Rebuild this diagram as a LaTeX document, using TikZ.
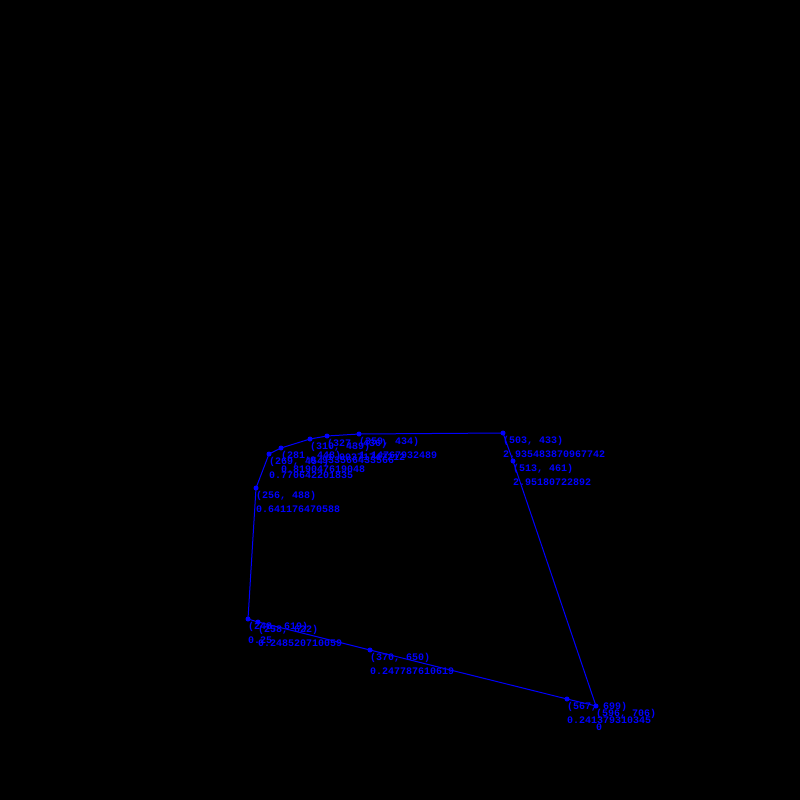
\documentclass[tikz,border=0pt]{standalone}
\usepackage{fontspec}
\setmonofont{Liberation Mono}
\usetikzlibrary{positioning}
\definecolor{hullblue}{RGB}{0,0,255}

\begin{document}
\begin{tikzpicture}[
  x=1pt,y=-1pt,
  hull/.style={draw=hullblue,line width=1pt},
  vertex/.style={circle,fill=hullblue,inner sep=0pt,minimum size=5pt},
  ptlabel/.style={anchor=base west,inner sep=0pt,text=hullblue,
                  font=\ttfamily\bfseries\fontsize{10}{12}\selectfont}
]
\fill[black] (0,0) rectangle (800,800);
% points with their slope values
\foreach \name/\px/\py/\val in {
  p0/596/706/0,
  p1/567/699/0.241379310345,
  p2/370/650/0.247787610619,
  p3/258/622/0.248520710059,
  p4/248/619/0.25,
  p5/256/488/0.641176470588,
  p6/269/454/0.770642201835,
  p7/281/448/0.819047619048,
  p8/310/439/0.933566433566,
  p9/327/436/1.00371747212,
  p10/359/434/1.14767932489,
  p11/503/433/2.935483870967742,
  p12/513/461/2.95180722892}{
  \node[vertex] (\name) at (\px,\py) {};
  \node[ptlabel] (\name-xy) at (\px,\py+10) {(\px, \py)};
  \node[ptlabel] (\name-val) at (\px,\py+24) {\val};
}
\draw[hull] (p0.center) -- (p1.center) -- (p2.center) -- (p3.center)
  -- (p4.center) -- (p5.center) -- (p6.center) -- (p7.center)
  -- (p8.center) -- (p9.center) -- (p10.center) -- (p11.center)
  -- (p12.center) -- cycle;
\end{tikzpicture}
\end{document}
